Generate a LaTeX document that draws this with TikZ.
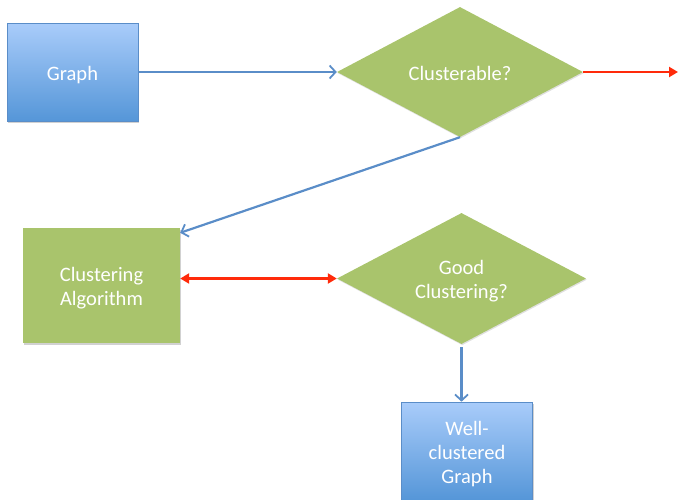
\documentclass[tikz,border=0pt]{standalone}
\usepackage{fontspec}
\setmainfont{Carlito}
\usetikzlibrary{shapes.geometric,arrows.meta,shadows}
\definecolor{gfill}{HTML}{A9C46C}
\definecolor{btop}{HTML}{A9CCFA}
\definecolor{bbot}{HTML}{5596D8}
\definecolor{bline}{HTML}{5A8DC8}
\definecolor{aline}{HTML}{5A8DC8}
\definecolor{rline}{HTML}{FF2A0A}
\newcommand{\dn}[1]{\raisebox{-3.5pt}[\height][\depth]{\begin{tabular}{@{}c@{}}#1\end{tabular}}}
\tikzset{
  lbl/.style={text=white,font=\fontsize{20.5}{24}\selectfont,align=center},
  bluebox/.style={lbl,rectangle,draw=bline,line width=0.6pt,top color=btop,bottom color=bbot,inner sep=0pt,
     drop shadow={shadow xshift=1pt,shadow yshift=-1.5pt,fill=black,opacity=0.18}},
  greenbox/.style={lbl,rectangle,fill=gfill,inner sep=0pt,
     drop shadow={shadow xshift=1pt,shadow yshift=-1.5pt,fill=black,opacity=0.18}},
  decision/.style={lbl,diamond,fill=gfill,inner sep=0pt,
     drop shadow={shadow xshift=0.8pt,shadow yshift=-1.2pt,fill=black,opacity=0.12}},
  bluearrow/.style={draw=aline,line width=2.2pt,-{Straight Barb[length=6pt,width=13pt,line width=1.8pt]}},
  redarrow/.style={draw=rline,line width=2.2pt,-{Triangle[length=9pt,width=10pt]}},
  redboth/.style={draw=rline,line width=2.2pt,{Triangle[length=9pt,width=10pt]}-{Triangle[length=9pt,width=10pt]}}
}
\begin{document}
\begin{tikzpicture}[x=1pt,y=-1pt]
\useasboundingbox (0,0) rectangle (678,499);
\node[bluebox,minimum width=131pt,minimum height=98pt] (graph) at (72.5,72) {\dn{Graph}};
\node[decision,minimum width=246pt,minimum height=130pt,aspect=1.9] (clus) at (460,72) {\dn{Clusterable?}};
\coordinate (out) at (678,72);
\node[greenbox,minimum width=157pt,minimum height=115pt] (algo) at (101.5,285.5) {\dn{Clustering\\Algorithm}};
\node[decision,minimum width=249pt,minimum height=131pt,aspect=1.9] (good) at (461.5,278.5) {\dn{Good\\Clustering?}};
\node[bluebox,minimum width=131pt,minimum height=98pt] (well) at (467,451) {\dn{Well-\\clustered\\Graph}};

\draw[bluearrow] (graph.east) -- (clus.west);
\draw[redarrow] (clus.east) -- (out);
\draw[bluearrow] (clus.south) -- ([yshift=-5pt]algo.north east);
\draw[redboth] (algo.east |- good.west) -- (good.west);
\draw[bluearrow] ([yshift=-3pt]good.south) -- (good.south |- well.north);
\end{tikzpicture}
\end{document}
